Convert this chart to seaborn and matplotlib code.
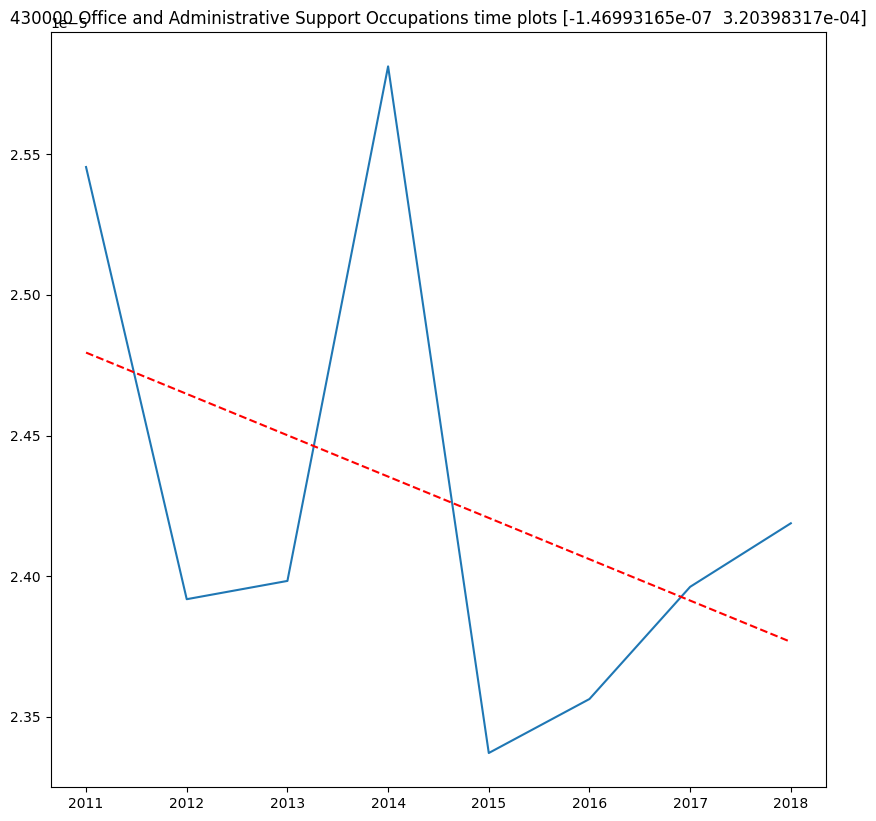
import numpy as np
import pandas as pd
import matplotlib
matplotlib.use("Agg")
import matplotlib.pyplot as plt
import seaborn as sns

years = [2011, 2012, 2013, 2014, 2015, 2016, 2017, 2018]
values = [2.5455e-05, 2.3918e-05, 2.3983e-05, 2.5813e-05, 2.3371e-05, 2.3563e-05, 2.3962e-05, 2.4188e-05]
coef = [-1.46993165e-07, 3.20398317e-04]

df = pd.DataFrame({"year": years, "value": values})
df["trend"] = np.polyval(coef, df["year"])

fig, ax = plt.subplots(figsize=(8.76, 8.21), dpi=100)
fig.subplots_adjust(left=0.058, right=0.943, top=0.961, bottom=0.041)

sns.lineplot(data=df, x="year", y="value", ax=ax, color="#1f77b4")
sns.lineplot(data=df, x="year", y="trend", ax=ax, color="red", linestyle="--")

ax.set_xlabel("")
ax.set_ylabel("")
# fixed y so the title sits right above the axes (overlapping the offset text)
ax.set_title("430000 Office and Administrative Support Occupations time plots "
             + str(np.array(coef)), y=1.0)

fig.savefig("out.png", dpi=100)
